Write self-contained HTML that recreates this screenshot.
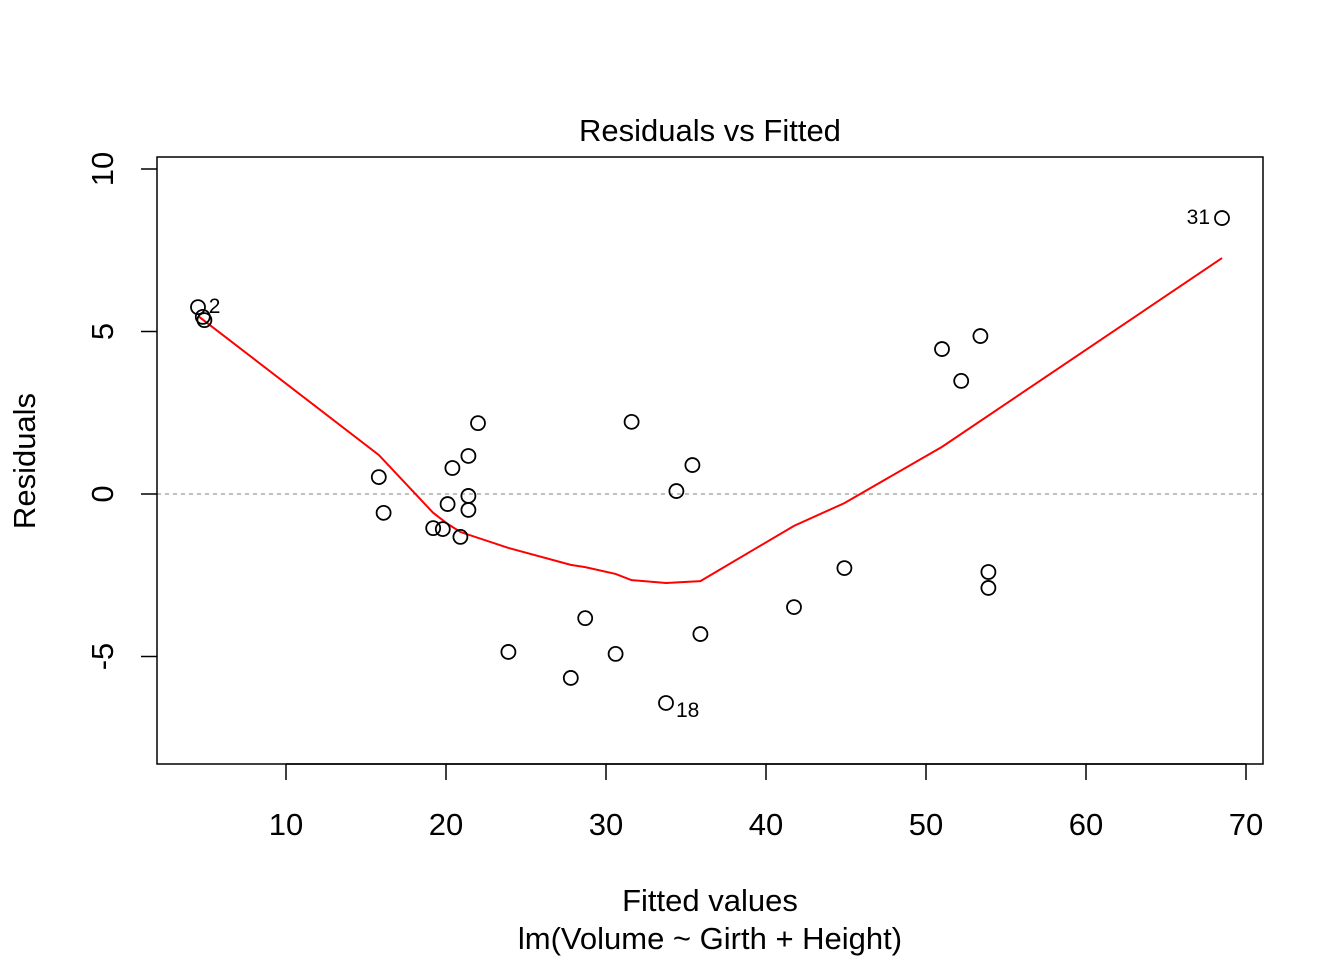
<!DOCTYPE html>
<html><head><meta charset="utf-8"><style>
body{margin:0;background:#fff}
svg{display:block;font-family:"Liberation Sans",Arial,sans-serif}
</style></head><body>
<svg width="1344" height="960" xmlns="http://www.w3.org/2000/svg">
<rect width="1344" height="960" fill="#fff"/>
<text x="710" y="141" font-size="31" text-anchor="middle">Residuals vs Fitted</text>
<line x1="157" y1="494" x2="1263" y2="494" stroke="#aaa" stroke-width="1.5" stroke-dasharray="4,4"/>
<g id="xt"></g>
<g id="yt"></g>
<path id="smooth" fill="none" stroke="#ff0000" stroke-width="2"/>
<g id="pts"></g>
<rect x="157" y="157" width="1106" height="607" fill="none" stroke="#000" stroke-width="1.5"/>
<text x="710" y="911" font-size="31" text-anchor="middle">Fitted values</text>
<text x="710" y="949" font-size="31" text-anchor="middle">lm(Volume ~ Girth + Height)</text>
<text transform="translate(35,461) rotate(-90)" font-size="31" text-anchor="middle">Residuals</text>
</svg>
<script>
const fitted=[4.5,4.8,4.9,15.8,16.1,19.2,19.8,20.1,20.4,20.9,21.4,21.4,21.4,22.0,23.9,27.8,28.7,30.6,31.6,33.75,34.4,35.4,35.9,41.75,44.9,51.0,52.2,53.4,53.9,53.9,68.5];
const resid=[5.75,5.45,5.35,0.52,-0.58,-1.05,-1.08,-0.31,0.8,-1.32,1.17,-0.06,-0.49,2.18,-4.86,-5.66,-3.82,-4.92,2.22,-6.43,0.09,0.89,-4.31,-3.48,-2.28,4.46,3.48,4.86,-2.4,-2.89,8.49];
const smoothX=[4.5,15.8,19.2,20.1,20.9,23.9,27.8,28.7,30.6,31.6,33.75,35.9,41.75,44.9,51.0,68.5];
const smoothY=[5.48,1.2,-0.58,-0.92,-1.17,-1.66,-2.18,-2.25,-2.46,-2.65,-2.74,-2.68,-0.98,-0.28,1.45,7.26];
const xTicks=[10,20,30,40,50,60,70];
const yTicks=[-5,0,5,10];
const labelIdx=[1,19,30];
const labelText=["2","18","31"];
const NS="http://www.w3.org/2000/svg";
const sx=v=>126+16*v, sy=v=>494-32.5*v;
function mk(t,a,p){const e=document.createElementNS(NS,t);for(const k in a)e.setAttribute(k,a[k]);p.appendChild(e);return e;}
const xt=document.getElementById('xt');
xTicks.forEach(v=>{
 const l=mk('line',{x1:sx(v),x2:sx(v),y1:764,y2:780,stroke:'#000','stroke-width':1.5},xt);
 
 
 const t=mk('text',{x:sx(v),y:835,'font-size':31,'text-anchor':'middle'},xt);t.textContent=v;
 
 
});
mk('line',{x1:sx(10),x2:sx(70),y1:764,y2:764,stroke:'#000','stroke-width':1.5},xt);
const yt=document.getElementById('yt');
yTicks.forEach(v=>{
 const l=mk('line',{x1:141,x2:157,y1:sy(v),y2:sy(v),stroke:'#000','stroke-width':1.5},yt);
 
 
 const t=mk('text',{transform:`translate(113,${sy(v)}) rotate(-90)`,'font-size':31,'text-anchor':'middle'},yt);t.textContent=v;
 
 
});
document.getElementById('smooth').setAttribute('d',smoothX.map((x,i)=>(i?'L':'M')+sx(x)+','+sy(smoothY[i])).join(''));
const pts=document.getElementById('pts');
fitted.forEach((f,i)=>{
 const c=mk('circle',{cx:sx(f),cy:sy(resid[i]),r:7,fill:'none',stroke:'#000','stroke-width':1.8},pts);
 
 
});
labelIdx.forEach((idx,j)=>{
 const x=sx(fitted[idx]),y=sy(resid[idx]);
 let a={'font-size':21};
 if(j==0){a.x=x+6;a.y=y-4;}
 else if(j==1){a.x=x+10;a.y=y+14;}
 else {a.x=x-12;a.y=y+6;a['text-anchor']='end';}
 const t=mk('text',a,pts);t.textContent=labelText[j];
 
 
});
</script>
</body></html>
